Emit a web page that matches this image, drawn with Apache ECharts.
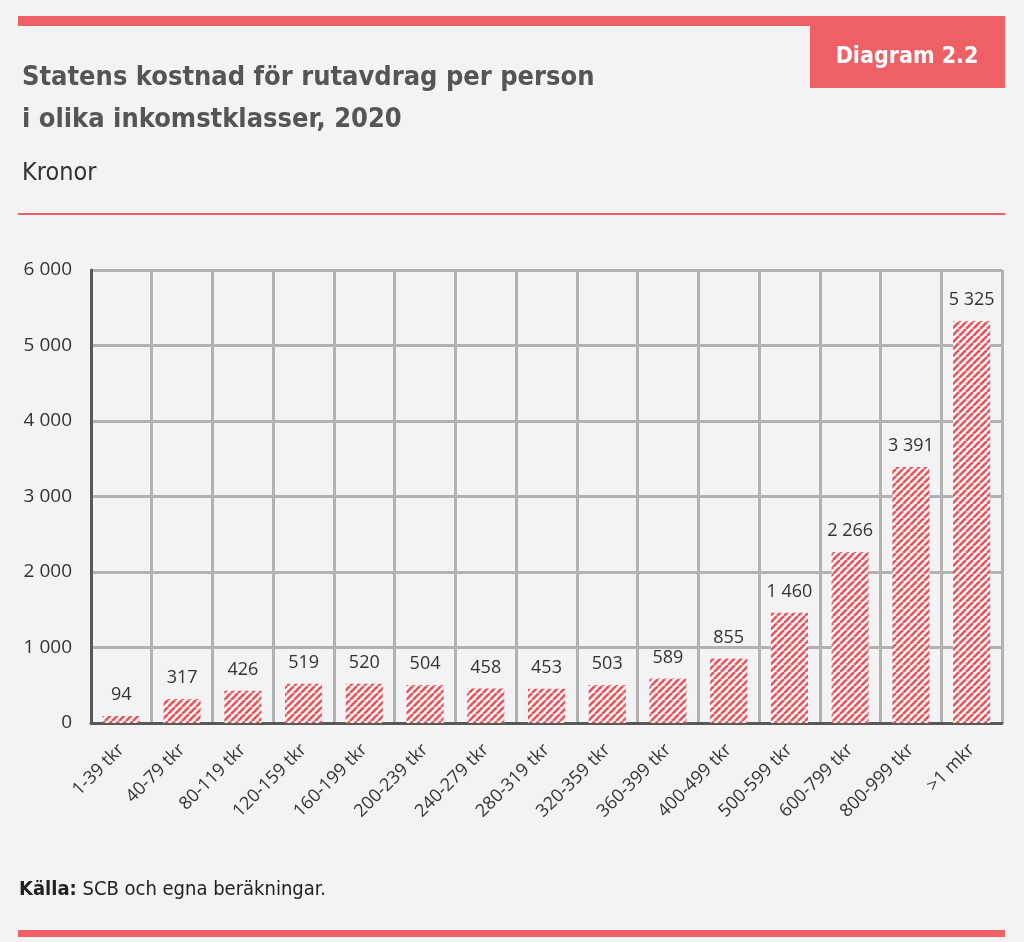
<!DOCTYPE html>
<html>
<head>
<meta charset="utf-8">
<script src="https://cdn.jsdelivr.net/npm/echarts@6/dist/echarts.min.js"></script>
<style>
  html, body { margin: 0; padding: 0; background: #f3f3f3; }
  #chart { width: 1024px; height: 942px; }
</style>
</head>
<body>
<div id="chart"></div>
<script>
// Inkomstklasser och kostnad per person (kronor)
const categories = ['1-39 tkr', '40-79 tkr', '80-119 tkr', '120-159 tkr', '160-199 tkr',
  '200-239 tkr', '240-279 tkr', '280-319 tkr', '320-359 tkr', '360-399 tkr',
  '400-499 tkr', '500-599 tkr', '600-799 tkr', '800-999 tkr', '>1 mkr'];
const values = [94, 317, 426, 519, 520, 504, 458, 453, 503, 589, 855, 1460, 2266, 3391, 5325];
const yTicks = [0, 1000, 2000, 3000, 4000, 5000, 6000];

const RED = '#ee5f66';
const narrow = '"Liberation Sans Narrow", "DejaVu Sans Condensed", sans-serif';
const body = '"Open Sans", "Noto Sans", sans-serif';

// randigt mönster för staplarna
function stripes() {
  const c = document.createElement('canvas');
  const s = 7;
  c.width = s; c.height = s;
  const ctx = c.getContext('2d');
  ctx.fillStyle = '#fdf6f6';
  ctx.fillRect(0, 0, s, s);
  ctx.strokeStyle = '#e9545c';
  ctx.lineWidth = 2.6;
  ctx.beginPath();
  for (let k = -1; k <= 1; k++) {
    ctx.moveTo(k * s, s);
    ctx.lineTo(k * s + s, 0);
  }
  ctx.stroke();
  return c;
}

function fmt(v) {
  return String(v).replace(/\B(?=(\d{3})+(?!\d))/g, ' ');
}

const chart = echarts.init(document.getElementById('chart'));

chart.setOption({
  backgroundColor: '#f3f3f3',
  animation: false,
  title: [{
    text: 'Statens kostnad för rutavdrag per person\ni olika inkomstklasser, 2020',
    left: 17, top: 52,
    textStyle: { fontFamily: narrow, fontSize: 27, fontWeight: 'bold', color: '#555555', lineHeight: 42 }
  }, {
    text: 'Kronor',
    left: 17, top: 156,
    textStyle: { fontFamily: narrow, fontSize: 25, fontWeight: 'normal', color: '#333333' }
  }],
  graphic: [
    { type: 'rect', shape: { x: 18, y: 16, width: 987, height: 10 }, style: { fill: RED } },
    { type: 'rect', shape: { x: 810, y: 26, width: 195, height: 62 }, style: { fill: RED } },
    { type: 'text', x: 907, y: 57, style: { text: 'Diagram 2.2', fill: '#ffffff',
        font: 'bold 23px ' + narrow, align: 'center', verticalAlign: 'middle' } },
    { type: 'rect', shape: { x: 18, y: 213, width: 987, height: 2 }, style: { fill: RED } },
    { type: 'text', x: 19, y: 890, style: {
        text: '{b|Källa:} SCB och egna beräkningar.',
        verticalAlign: 'middle',
        rich: {
          b: { font: 'bold 20px ' + narrow, fill: '#222222' }
        },
        font: '20px ' + narrow, fill: '#222222' } },
    { type: 'rect', shape: { x: 18, y: 930, width: 987, height: 7 }, style: { fill: RED } }
  ],
  grid: { left: 91, right: 22, top: 270, bottom: 219, containLabel: false },
  xAxis: {
    type: 'category',
    data: categories,
    axisLine: { show: true, lineStyle: { color: '#595959', width: 3 } },
    axisTick: { show: false },
    splitLine: { show: true, interval: 0, lineStyle: { color: '#b2b2b2', width: 3 } },
    axisLabel: { interval: 0, rotate: 45, margin: 24, color: '#333333', fontFamily: body, fontSize: 18 }
  },
  yAxis: {
    type: 'value',
    min: yTicks[0], max: yTicks[yTicks.length - 1], interval: 1000,
    axisLine: { show: true, lineStyle: { color: '#595959', width: 3 } },
    axisTick: { show: false },
    splitLine: { show: true, lineStyle: { color: '#b2b2b2', width: 3 } },
    axisLabel: { margin: 19, color: '#333333', fontFamily: body, fontSize: 19, formatter: fmt }
  },
  series: [{
    type: 'bar',
    data: values,
    barWidth: '61%',
    itemStyle: { color: { image: stripes(), repeat: 'repeat' } },
    label: {
      show: true, position: 'top', distance: 12,
      color: '#333333', fontFamily: body, fontSize: 18,
      formatter: p => fmt(p.value)
    }
  }]
});

window.addEventListener('resize', () => chart.resize());
</script>
</body>
</html>
